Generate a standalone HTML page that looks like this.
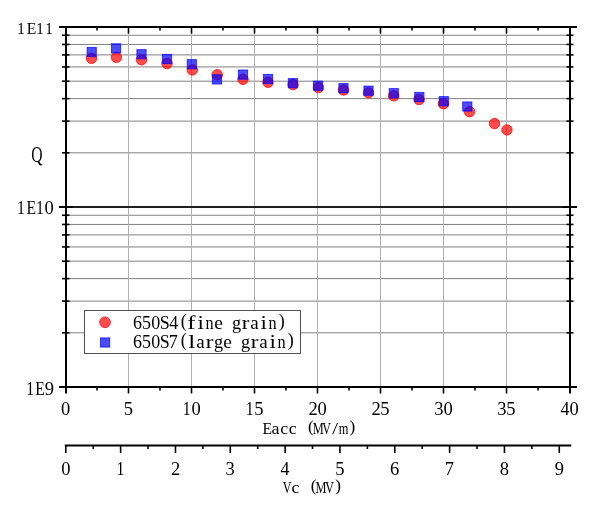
<!DOCTYPE html>
<html><head><meta charset="utf-8"><style>
html,body{margin:0;padding:0;background:#fff;}
svg{display:block;will-change:transform;font-family:"Liberation Serif",serif;}
text{fill:#000;}
</style></head><body>
<svg width="600" height="516" viewBox="0 0 600 516">
<rect width="600" height="516" fill="#fff"/>
<line x1="65.5" y1="332.81" x2="569.5" y2="332.81" stroke="#808080" stroke-width="1"/>
<line x1="65.5" y1="301.12" x2="569.5" y2="301.12" stroke="#808080" stroke-width="1"/>
<line x1="65.5" y1="278.63" x2="569.5" y2="278.63" stroke="#808080" stroke-width="1"/>
<line x1="65.5" y1="261.19" x2="569.5" y2="261.19" stroke="#808080" stroke-width="1"/>
<line x1="65.5" y1="246.93" x2="569.5" y2="246.93" stroke="#808080" stroke-width="1"/>
<line x1="65.5" y1="234.88" x2="569.5" y2="234.88" stroke="#808080" stroke-width="1"/>
<line x1="65.5" y1="224.44" x2="569.5" y2="224.44" stroke="#808080" stroke-width="1"/>
<line x1="65.5" y1="215.24" x2="569.5" y2="215.24" stroke="#808080" stroke-width="1"/>
<line x1="65.5" y1="152.81" x2="569.5" y2="152.81" stroke="#808080" stroke-width="1"/>
<line x1="65.5" y1="121.12" x2="569.5" y2="121.12" stroke="#808080" stroke-width="1"/>
<line x1="65.5" y1="98.63" x2="569.5" y2="98.63" stroke="#808080" stroke-width="1"/>
<line x1="65.5" y1="81.19" x2="569.5" y2="81.19" stroke="#808080" stroke-width="1"/>
<line x1="65.5" y1="66.93" x2="569.5" y2="66.93" stroke="#808080" stroke-width="1"/>
<line x1="65.5" y1="54.88" x2="569.5" y2="54.88" stroke="#808080" stroke-width="1"/>
<line x1="65.5" y1="44.44" x2="569.5" y2="44.44" stroke="#808080" stroke-width="1"/>
<line x1="65.5" y1="35.24" x2="569.5" y2="35.24" stroke="#808080" stroke-width="1"/>
<line x1="128.50" y1="27.0" x2="128.50" y2="387.0" stroke="#b0b0b0" stroke-width="1"/>
<line x1="191.50" y1="27.0" x2="191.50" y2="387.0" stroke="#b0b0b0" stroke-width="1"/>
<line x1="254.50" y1="27.0" x2="254.50" y2="387.0" stroke="#b0b0b0" stroke-width="1"/>
<line x1="317.50" y1="27.0" x2="317.50" y2="387.0" stroke="#b0b0b0" stroke-width="1"/>
<line x1="380.50" y1="27.0" x2="380.50" y2="387.0" stroke="#b0b0b0" stroke-width="1"/>
<line x1="443.50" y1="27.0" x2="443.50" y2="387.0" stroke="#b0b0b0" stroke-width="1"/>
<line x1="506.50" y1="27.0" x2="506.50" y2="387.0" stroke="#b0b0b0" stroke-width="1"/>
<line x1="66" y1="207.0" x2="570" y2="207.0" stroke="#1e1e1e" stroke-width="1.85"/>
<line x1="59" y1="207.0" x2="72.7" y2="207.0" stroke="#000" stroke-width="2"/>
<line x1="563.2" y1="207.0" x2="577" y2="207.0" stroke="#000" stroke-width="2"/>
<circle cx="91.5" cy="58.30" r="5.25" fill="rgba(255,0,0,0.70)" stroke="rgba(255,0,0,0.70)" stroke-width="1"/>
<circle cx="116.4" cy="57.30" r="5.25" fill="rgba(255,0,0,0.70)" stroke="rgba(255,0,0,0.70)" stroke-width="1"/>
<circle cx="141.5" cy="59.70" r="5.25" fill="rgba(255,0,0,0.70)" stroke="rgba(255,0,0,0.70)" stroke-width="1"/>
<circle cx="167" cy="63.50" r="5.25" fill="rgba(255,0,0,0.70)" stroke="rgba(255,0,0,0.70)" stroke-width="1"/>
<circle cx="192.3" cy="69.90" r="5.25" fill="rgba(255,0,0,0.70)" stroke="rgba(255,0,0,0.70)" stroke-width="1"/>
<circle cx="217.2" cy="74.80" r="5.25" fill="rgba(255,0,0,0.70)" stroke="rgba(255,0,0,0.70)" stroke-width="1"/>
<circle cx="243" cy="79.30" r="5.25" fill="rgba(255,0,0,0.70)" stroke="rgba(255,0,0,0.70)" stroke-width="1"/>
<circle cx="268" cy="82.30" r="5.25" fill="rgba(255,0,0,0.70)" stroke="rgba(255,0,0,0.70)" stroke-width="1"/>
<circle cx="293" cy="84.60" r="5.25" fill="rgba(255,0,0,0.70)" stroke="rgba(255,0,0,0.70)" stroke-width="1"/>
<circle cx="318.5" cy="87.50" r="5.25" fill="rgba(255,0,0,0.70)" stroke="rgba(255,0,0,0.70)" stroke-width="1"/>
<circle cx="343.5" cy="90.00" r="5.25" fill="rgba(255,0,0,0.70)" stroke="rgba(255,0,0,0.70)" stroke-width="1"/>
<circle cx="368.5" cy="92.80" r="5.25" fill="rgba(255,0,0,0.70)" stroke="rgba(255,0,0,0.70)" stroke-width="1"/>
<circle cx="393.7" cy="95.80" r="5.25" fill="rgba(255,0,0,0.70)" stroke="rgba(255,0,0,0.70)" stroke-width="1"/>
<circle cx="419" cy="99.50" r="5.25" fill="rgba(255,0,0,0.70)" stroke="rgba(255,0,0,0.70)" stroke-width="1"/>
<circle cx="443.4" cy="103.70" r="5.25" fill="rgba(255,0,0,0.70)" stroke="rgba(255,0,0,0.70)" stroke-width="1"/>
<circle cx="469.5" cy="111.70" r="5.25" fill="rgba(255,0,0,0.70)" stroke="rgba(255,0,0,0.70)" stroke-width="1"/>
<circle cx="494.5" cy="123.60" r="5.25" fill="rgba(255,0,0,0.70)" stroke="rgba(255,0,0,0.70)" stroke-width="1"/>
<circle cx="506.9" cy="129.90" r="5.25" fill="rgba(255,0,0,0.70)" stroke="rgba(255,0,0,0.70)" stroke-width="1"/>
<rect x="87.10" y="47.40" width="9.2" height="9.2" fill="rgba(0,0,255,0.70)" stroke="rgba(0,0,255,0.70)" stroke-width="1"/>
<rect x="111.40" y="43.80" width="9.2" height="9.2" fill="rgba(0,0,255,0.70)" stroke="rgba(0,0,255,0.70)" stroke-width="1"/>
<rect x="136.90" y="49.60" width="9.2" height="9.2" fill="rgba(0,0,255,0.70)" stroke="rgba(0,0,255,0.70)" stroke-width="1"/>
<rect x="162.40" y="54.40" width="9.2" height="9.2" fill="rgba(0,0,255,0.70)" stroke="rgba(0,0,255,0.70)" stroke-width="1"/>
<rect x="187.20" y="59.60" width="9.2" height="9.2" fill="rgba(0,0,255,0.70)" stroke="rgba(0,0,255,0.70)" stroke-width="1"/>
<rect x="212.40" y="74.80" width="9.2" height="9.2" fill="rgba(0,0,255,0.70)" stroke="rgba(0,0,255,0.70)" stroke-width="1"/>
<rect x="238.40" y="70.00" width="9.2" height="9.2" fill="rgba(0,0,255,0.70)" stroke="rgba(0,0,255,0.70)" stroke-width="1"/>
<rect x="263.40" y="74.40" width="9.2" height="9.2" fill="rgba(0,0,255,0.70)" stroke="rgba(0,0,255,0.70)" stroke-width="1"/>
<rect x="288.40" y="78.60" width="9.2" height="9.2" fill="rgba(0,0,255,0.70)" stroke="rgba(0,0,255,0.70)" stroke-width="1"/>
<rect x="313.40" y="81.10" width="9.2" height="9.2" fill="rgba(0,0,255,0.70)" stroke="rgba(0,0,255,0.70)" stroke-width="1"/>
<rect x="338.90" y="83.60" width="9.2" height="9.2" fill="rgba(0,0,255,0.70)" stroke="rgba(0,0,255,0.70)" stroke-width="1"/>
<rect x="363.90" y="86.10" width="9.2" height="9.2" fill="rgba(0,0,255,0.70)" stroke="rgba(0,0,255,0.70)" stroke-width="1"/>
<rect x="389.20" y="88.60" width="9.2" height="9.2" fill="rgba(0,0,255,0.70)" stroke="rgba(0,0,255,0.70)" stroke-width="1"/>
<rect x="414.70" y="92.40" width="9.2" height="9.2" fill="rgba(0,0,255,0.70)" stroke="rgba(0,0,255,0.70)" stroke-width="1"/>
<rect x="439.20" y="96.60" width="9.2" height="9.2" fill="rgba(0,0,255,0.70)" stroke="rgba(0,0,255,0.70)" stroke-width="1"/>
<rect x="462.70" y="101.90" width="9.2" height="9.2" fill="rgba(0,0,255,0.70)" stroke="rgba(0,0,255,0.70)" stroke-width="1"/>
<line x1="59" y1="27.0" x2="577" y2="27.0" stroke="#000" stroke-width="2"/>
<line x1="59" y1="387.0" x2="577" y2="387.0" stroke="#000" stroke-width="2"/>
<line x1="66.0" y1="27.0" x2="66.0" y2="393.5" stroke="#000" stroke-width="2"/>
<line x1="570.0" y1="27.0" x2="570.0" y2="393.5" stroke="#000" stroke-width="2"/>
<line x1="62" y1="332.81" x2="69.5" y2="332.81" stroke="#000" stroke-width="1.6"/>
<line x1="566.5" y1="332.81" x2="573.5" y2="332.81" stroke="#000" stroke-width="1.6"/>
<line x1="62" y1="301.12" x2="69.5" y2="301.12" stroke="#000" stroke-width="1.6"/>
<line x1="566.5" y1="301.12" x2="573.5" y2="301.12" stroke="#000" stroke-width="1.6"/>
<line x1="62" y1="278.63" x2="69.5" y2="278.63" stroke="#000" stroke-width="1.6"/>
<line x1="566.5" y1="278.63" x2="573.5" y2="278.63" stroke="#000" stroke-width="1.6"/>
<line x1="62" y1="261.19" x2="69.5" y2="261.19" stroke="#000" stroke-width="1.6"/>
<line x1="566.5" y1="261.19" x2="573.5" y2="261.19" stroke="#000" stroke-width="1.6"/>
<line x1="62" y1="246.93" x2="69.5" y2="246.93" stroke="#000" stroke-width="1.6"/>
<line x1="566.5" y1="246.93" x2="573.5" y2="246.93" stroke="#000" stroke-width="1.6"/>
<line x1="62" y1="234.88" x2="69.5" y2="234.88" stroke="#000" stroke-width="1.6"/>
<line x1="566.5" y1="234.88" x2="573.5" y2="234.88" stroke="#000" stroke-width="1.6"/>
<line x1="62" y1="224.44" x2="69.5" y2="224.44" stroke="#000" stroke-width="1.6"/>
<line x1="566.5" y1="224.44" x2="573.5" y2="224.44" stroke="#000" stroke-width="1.6"/>
<line x1="62" y1="215.24" x2="69.5" y2="215.24" stroke="#000" stroke-width="1.6"/>
<line x1="566.5" y1="215.24" x2="573.5" y2="215.24" stroke="#000" stroke-width="1.6"/>
<line x1="62" y1="152.81" x2="69.5" y2="152.81" stroke="#000" stroke-width="1.6"/>
<line x1="566.5" y1="152.81" x2="573.5" y2="152.81" stroke="#000" stroke-width="1.6"/>
<line x1="62" y1="121.12" x2="69.5" y2="121.12" stroke="#000" stroke-width="1.6"/>
<line x1="566.5" y1="121.12" x2="573.5" y2="121.12" stroke="#000" stroke-width="1.6"/>
<line x1="62" y1="98.63" x2="69.5" y2="98.63" stroke="#000" stroke-width="1.6"/>
<line x1="566.5" y1="98.63" x2="573.5" y2="98.63" stroke="#000" stroke-width="1.6"/>
<line x1="62" y1="81.19" x2="69.5" y2="81.19" stroke="#000" stroke-width="1.6"/>
<line x1="566.5" y1="81.19" x2="573.5" y2="81.19" stroke="#000" stroke-width="1.6"/>
<line x1="62" y1="66.93" x2="69.5" y2="66.93" stroke="#000" stroke-width="1.6"/>
<line x1="566.5" y1="66.93" x2="573.5" y2="66.93" stroke="#000" stroke-width="1.6"/>
<line x1="62" y1="54.88" x2="69.5" y2="54.88" stroke="#000" stroke-width="1.6"/>
<line x1="566.5" y1="54.88" x2="573.5" y2="54.88" stroke="#000" stroke-width="1.6"/>
<line x1="62" y1="44.44" x2="69.5" y2="44.44" stroke="#000" stroke-width="1.6"/>
<line x1="566.5" y1="44.44" x2="573.5" y2="44.44" stroke="#000" stroke-width="1.6"/>
<line x1="62" y1="35.24" x2="69.5" y2="35.24" stroke="#000" stroke-width="1.6"/>
<line x1="566.5" y1="35.24" x2="573.5" y2="35.24" stroke="#000" stroke-width="1.6"/>
<line x1="97.00" y1="27.0" x2="97.00" y2="30.5" stroke="#000" stroke-width="1.6"/>
<line x1="97.00" y1="387.0" x2="97.00" y2="390.5" stroke="#000" stroke-width="1.6"/>
<line x1="128.50" y1="27.0" x2="128.50" y2="33.5" stroke="#000" stroke-width="1.6"/>
<line x1="128.50" y1="387.0" x2="128.50" y2="393.5" stroke="#000" stroke-width="1.6"/>
<line x1="160.00" y1="27.0" x2="160.00" y2="30.5" stroke="#000" stroke-width="1.6"/>
<line x1="160.00" y1="387.0" x2="160.00" y2="390.5" stroke="#000" stroke-width="1.6"/>
<line x1="191.50" y1="27.0" x2="191.50" y2="33.5" stroke="#000" stroke-width="1.6"/>
<line x1="191.50" y1="387.0" x2="191.50" y2="393.5" stroke="#000" stroke-width="1.6"/>
<line x1="223.00" y1="27.0" x2="223.00" y2="30.5" stroke="#000" stroke-width="1.6"/>
<line x1="223.00" y1="387.0" x2="223.00" y2="390.5" stroke="#000" stroke-width="1.6"/>
<line x1="254.50" y1="27.0" x2="254.50" y2="33.5" stroke="#000" stroke-width="1.6"/>
<line x1="254.50" y1="387.0" x2="254.50" y2="393.5" stroke="#000" stroke-width="1.6"/>
<line x1="286.00" y1="27.0" x2="286.00" y2="30.5" stroke="#000" stroke-width="1.6"/>
<line x1="286.00" y1="387.0" x2="286.00" y2="390.5" stroke="#000" stroke-width="1.6"/>
<line x1="317.50" y1="27.0" x2="317.50" y2="33.5" stroke="#000" stroke-width="1.6"/>
<line x1="317.50" y1="387.0" x2="317.50" y2="393.5" stroke="#000" stroke-width="1.6"/>
<line x1="349.00" y1="27.0" x2="349.00" y2="30.5" stroke="#000" stroke-width="1.6"/>
<line x1="349.00" y1="387.0" x2="349.00" y2="390.5" stroke="#000" stroke-width="1.6"/>
<line x1="380.50" y1="27.0" x2="380.50" y2="33.5" stroke="#000" stroke-width="1.6"/>
<line x1="380.50" y1="387.0" x2="380.50" y2="393.5" stroke="#000" stroke-width="1.6"/>
<line x1="412.00" y1="27.0" x2="412.00" y2="30.5" stroke="#000" stroke-width="1.6"/>
<line x1="412.00" y1="387.0" x2="412.00" y2="390.5" stroke="#000" stroke-width="1.6"/>
<line x1="443.50" y1="27.0" x2="443.50" y2="33.5" stroke="#000" stroke-width="1.6"/>
<line x1="443.50" y1="387.0" x2="443.50" y2="393.5" stroke="#000" stroke-width="1.6"/>
<line x1="475.00" y1="27.0" x2="475.00" y2="30.5" stroke="#000" stroke-width="1.6"/>
<line x1="475.00" y1="387.0" x2="475.00" y2="390.5" stroke="#000" stroke-width="1.6"/>
<line x1="506.50" y1="27.0" x2="506.50" y2="33.5" stroke="#000" stroke-width="1.6"/>
<line x1="506.50" y1="387.0" x2="506.50" y2="393.5" stroke="#000" stroke-width="1.6"/>
<line x1="538.00" y1="27.0" x2="538.00" y2="30.5" stroke="#000" stroke-width="1.6"/>
<line x1="538.00" y1="387.0" x2="538.00" y2="390.5" stroke="#000" stroke-width="1.6"/>
<line x1="64.8" y1="445.5" x2="571.3" y2="445.5" stroke="#000" stroke-width="2"/>
<line x1="65.80" y1="445.5" x2="65.80" y2="453.0" stroke="#000" stroke-width="1.6"/>
<line x1="93.22" y1="445.5" x2="93.22" y2="449.0" stroke="#000" stroke-width="1.6"/>
<line x1="120.63" y1="445.5" x2="120.63" y2="453.0" stroke="#000" stroke-width="1.6"/>
<line x1="148.05" y1="445.5" x2="148.05" y2="449.0" stroke="#000" stroke-width="1.6"/>
<line x1="175.46" y1="445.5" x2="175.46" y2="453.0" stroke="#000" stroke-width="1.6"/>
<line x1="202.88" y1="445.5" x2="202.88" y2="449.0" stroke="#000" stroke-width="1.6"/>
<line x1="230.29" y1="445.5" x2="230.29" y2="453.0" stroke="#000" stroke-width="1.6"/>
<line x1="257.70" y1="445.5" x2="257.70" y2="449.0" stroke="#000" stroke-width="1.6"/>
<line x1="285.12" y1="445.5" x2="285.12" y2="453.0" stroke="#000" stroke-width="1.6"/>
<line x1="312.53" y1="445.5" x2="312.53" y2="449.0" stroke="#000" stroke-width="1.6"/>
<line x1="339.95" y1="445.5" x2="339.95" y2="453.0" stroke="#000" stroke-width="1.6"/>
<line x1="367.37" y1="445.5" x2="367.37" y2="449.0" stroke="#000" stroke-width="1.6"/>
<line x1="394.78" y1="445.5" x2="394.78" y2="453.0" stroke="#000" stroke-width="1.6"/>
<line x1="422.19" y1="445.5" x2="422.19" y2="449.0" stroke="#000" stroke-width="1.6"/>
<line x1="449.61" y1="445.5" x2="449.61" y2="453.0" stroke="#000" stroke-width="1.6"/>
<line x1="477.02" y1="445.5" x2="477.02" y2="449.0" stroke="#000" stroke-width="1.6"/>
<line x1="504.44" y1="445.5" x2="504.44" y2="453.0" stroke="#000" stroke-width="1.6"/>
<line x1="531.86" y1="445.5" x2="531.86" y2="449.0" stroke="#000" stroke-width="1.6"/>
<line x1="559.27" y1="445.5" x2="559.27" y2="453.0" stroke="#000" stroke-width="1.6"/>
<text transform="translate(17.14,34.4) scale(0.852,1)" font-size="17.6">1</text>
<text transform="translate(26.75,34.4) scale(0.886,1)" font-size="17.6">E</text>
<text transform="translate(36.29,34.4) scale(0.852,1)" font-size="17.6">1</text>
<text transform="translate(45.24,34.4) scale(0.852,1)" font-size="17.6">1</text>
<text transform="translate(16.94,214.2) scale(0.852,1)" font-size="18.5">1</text>
<text transform="translate(26.50,214.2) scale(0.843,1)" font-size="18.5">E</text>
<text transform="translate(35.94,214.2) scale(0.852,1)" font-size="18.5">1</text>
<text x="44.48" y="214.2" font-size="18.5">0</text>
<text transform="translate(26.24,394.5) scale(0.852,1)" font-size="18.5">1</text>
<text transform="translate(35.30,394.5) scale(0.843,1)" font-size="18.5">E</text>
<text x="44.66" y="394.5" font-size="18.5">9</text>
<text transform="translate(31.36,162.3) scale(0.696,1)" font-size="22.5">Q</text>
<text x="60.88" y="414.5" font-size="18.5">0</text>
<text x="123.70" y="414.5" font-size="18.5">5</text>
<text transform="translate(182.74,414.5) scale(0.852,1)" font-size="18.5">1</text>
<text x="191.38" y="414.5" font-size="18.5">0</text>
<text transform="translate(245.74,414.5) scale(0.852,1)" font-size="18.5">1</text>
<text x="254.20" y="414.5" font-size="18.5">5</text>
<text x="308.38" y="414.5" font-size="18.5">2</text>
<text x="317.38" y="414.5" font-size="18.5">0</text>
<text x="371.38" y="414.5" font-size="18.5">2</text>
<text x="380.20" y="414.5" font-size="18.5">5</text>
<text x="434.19" y="414.5" font-size="18.5">3</text>
<text x="443.38" y="414.5" font-size="18.5">0</text>
<text x="497.19" y="414.5" font-size="18.5">3</text>
<text x="506.20" y="414.5" font-size="18.5">5</text>
<text transform="translate(560.40,414.5) scale(0.965,1)" font-size="18.5">4</text>
<text x="569.38" y="414.5" font-size="18.5">0</text>
<text transform="translate(262.60,433.5) scale(0.907,1)" font-size="17.2">E</text>
<text transform="translate(271.48,433.5) scale(1.055,1)" font-size="17.2">a</text>
<text transform="translate(280.18,433.5) scale(1.037,1)" font-size="17.2">c</text>
<text transform="translate(288.68,433.5) scale(1.037,1)" font-size="17.2">c</text>
<text x="307.94" y="431.7" font-size="17.2">(</text>
<text transform="translate(312.69,433.5) scale(0.721,1)" font-size="17.2">M</text>
<text transform="translate(322.37,433.5) scale(0.698,1)" font-size="17.2">V</text>
<text transform="translate(332.33,433.5) scale(1.200,1)" font-size="17.2">/</text>
<text transform="translate(338.84,433.5) scale(0.722,1)" font-size="17.2">m</text>
<text x="349.44" y="431.7" font-size="17.2">)</text>
<text x="61.17" y="475.0" font-size="18.5">0</text>
<text transform="translate(116.47,475.0) scale(0.852,1)" font-size="18.5">1</text>
<text x="170.94" y="475.0" font-size="18.5">2</text>
<text x="225.58" y="475.0" font-size="18.5">3</text>
<text transform="translate(280.62,475.0) scale(0.965,1)" font-size="18.5">4</text>
<text x="335.15" y="475.0" font-size="18.5">5</text>
<text x="390.03" y="475.0" font-size="18.5">6</text>
<text x="444.64" y="475.0" font-size="18.5">7</text>
<text x="499.81" y="475.0" font-size="18.5">8</text>
<text x="554.73" y="475.0" font-size="18.5">9</text>
<text transform="translate(282.67,493.0) scale(0.698,1)" font-size="17.2">V</text>
<text transform="translate(291.48,493.0) scale(1.037,1)" font-size="17.2">c</text>
<text x="310.74" y="491.2" font-size="17.2">(</text>
<text transform="translate(315.49,493.0) scale(0.721,1)" font-size="17.2">M</text>
<text transform="translate(325.17,493.0) scale(0.698,1)" font-size="17.2">V</text>
<text x="335.24" y="491.2" font-size="17.2">)</text>
<rect x="84.5" y="310.5" width="216" height="43" fill="#fff" stroke="#505050" stroke-width="1"/>
<circle cx="105" cy="322.3" r="5.4" fill="rgba(255,0,0,0.70)" stroke="rgba(255,0,0,0.70)" stroke-width="1"/>
<rect x="100.5" y="337.9" width="9.2" height="9.2" fill="rgba(0,0,255,0.70)" stroke="rgba(0,0,255,0.70)" stroke-width="1"/>
<text x="133.08" y="328.5" font-size="18.0">6</text>
<text x="142.03" y="328.5" font-size="18.0">5</text>
<text x="151.20" y="328.5" font-size="18.0">0</text>
<text x="159.65" y="328.5" font-size="18.0">S</text>
<text transform="translate(169.20,328.5) scale(0.992,1)" font-size="18.0">4</text>
<text x="180.80" y="326.7" font-size="18.0">(</text>
<text transform="translate(187.19,328.5) scale(1.379,1)" font-size="18.0">f</text>
<text transform="translate(197.46,328.5) scale(1.285,1)" font-size="18.0">i</text>
<text transform="translate(205.58,328.5) scale(0.902,1)" font-size="18.0">n</text>
<text transform="translate(214.34,328.5) scale(1.081,1)" font-size="18.0">e</text>
<text transform="translate(231.92,328.5) scale(1.015,1)" font-size="18.0">g</text>
<text transform="translate(241.74,328.5) scale(1.278,1)" font-size="18.0">r</text>
<text transform="translate(250.28,328.5) scale(1.055,1)" font-size="18.0">a</text>
<text transform="translate(260.46,328.5) scale(1.285,1)" font-size="18.0">i</text>
<text transform="translate(268.58,328.5) scale(0.902,1)" font-size="18.0">n</text>
<text x="278.81" y="326.7" font-size="18.0">)</text>
<text x="133.08" y="348.0" font-size="18.0">6</text>
<text x="142.03" y="348.0" font-size="18.0">5</text>
<text x="151.20" y="348.0" font-size="18.0">0</text>
<text x="159.65" y="348.0" font-size="18.0">S</text>
<text x="168.87" y="348.0" font-size="18.0">7</text>
<text x="180.80" y="346.2" font-size="18.0">(</text>
<text transform="translate(188.20,348.0) scale(1.400,1)" font-size="18.0">l</text>
<text transform="translate(196.28,348.0) scale(1.055,1)" font-size="18.0">a</text>
<text transform="translate(205.74,348.0) scale(1.278,1)" font-size="18.0">r</text>
<text transform="translate(213.92,348.0) scale(1.015,1)" font-size="18.0">g</text>
<text transform="translate(223.34,348.0) scale(1.081,1)" font-size="18.0">e</text>
<text transform="translate(240.92,348.0) scale(1.015,1)" font-size="18.0">g</text>
<text transform="translate(250.74,348.0) scale(1.278,1)" font-size="18.0">r</text>
<text transform="translate(259.28,348.0) scale(1.055,1)" font-size="18.0">a</text>
<text transform="translate(269.46,348.0) scale(1.285,1)" font-size="18.0">i</text>
<text transform="translate(277.58,348.0) scale(0.902,1)" font-size="18.0">n</text>
<text x="287.81" y="346.2" font-size="18.0">)</text>
</svg></body></html>
